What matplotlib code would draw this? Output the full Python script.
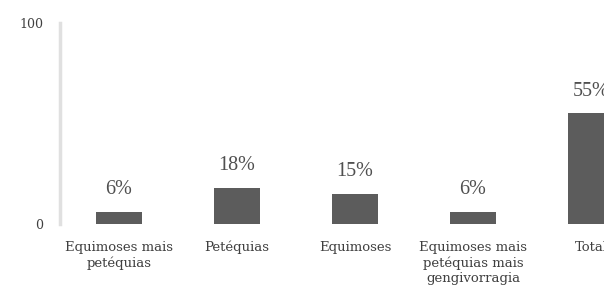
import matplotlib
matplotlib.use("Agg")
import matplotlib.pyplot as plt

categories = [
    "Equimoses mais\npetéquias",
    "Petéquias",
    "Equimoses",
    "Equimoses mais\npetéquias mais\ngengivorragia",
    "Total",
]
values = [6, 18, 15, 6, 55]
value_labels = ["6%", "18%", "15%", "6%", "55%"]

plt.rcParams["font.family"] = ["DejaVu Serif"]

fig = plt.figure(figsize=(6.04, 2.95), dpi=100)
ax = fig.add_axes([60 / 604, 71 / 295, 1 - 60 / 604, 201 / 295])

x = range(len(categories))
bars = ax.bar(x, values, width=0.39, color="#5c5c5c", zorder=2)

# percent labels above bars
for b, lab in zip(bars, value_labels):
    ax.annotate(lab, (b.get_x() + b.get_width() / 2, b.get_height()),
                xytext=(0, 9), textcoords="offset points",
                ha="center", va="bottom", fontsize=14.5, color="#505050",
                family="Liberation Serif")

ax.set_xlim(-0.5, 4.11)
ax.set_ylim(0, 100)
ax.set_yticks([0, 100])
ax.set_xticks(list(x))
ax.set_xticklabels(categories, fontsize=9.5, color="#404040", linespacing=1.25)
ax.tick_params(axis="both", length=0)
ax.tick_params(axis="x", pad=12)
ax.tick_params(axis="y", pad=12, labelsize=9, labelcolor="#404040")

for s in ["top", "right", "bottom"]:
    ax.spines[s].set_visible(False)
ax.spines["left"].set_color("#e0e0e0")
ax.spines["left"].set_linewidth(2.5)

fig.savefig("out.png", dpi=100)
